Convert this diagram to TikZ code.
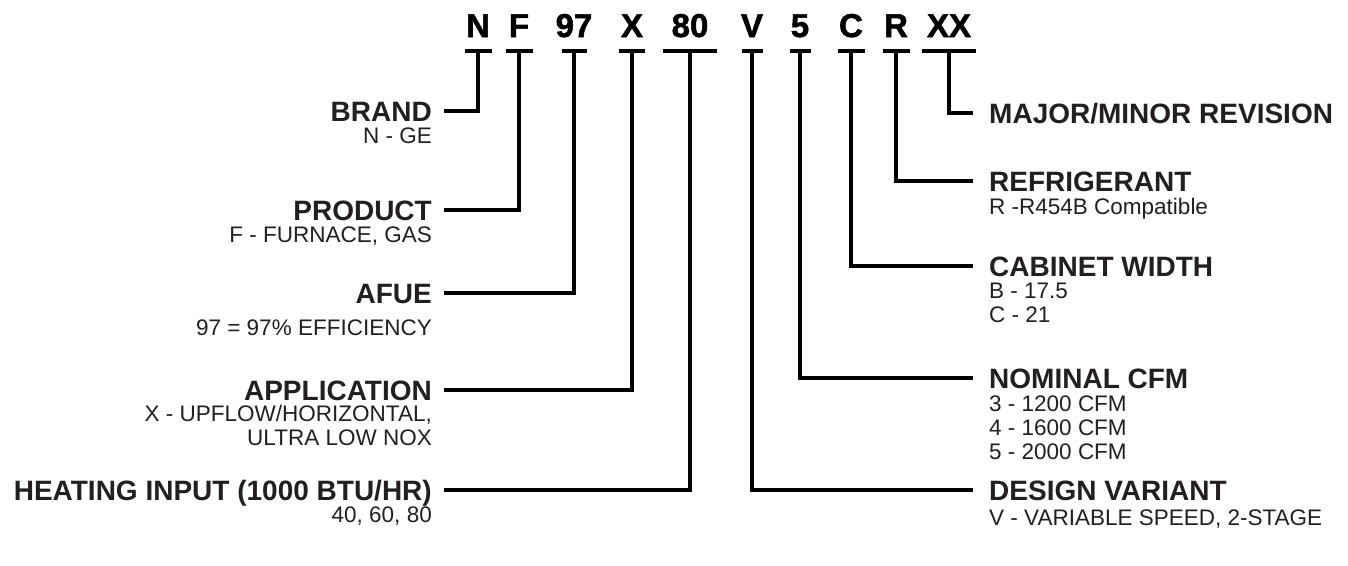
\documentclass[tikz,border=0pt]{standalone}
\usepackage{fontspec}
\setmainfont{Liberation Sans}
\newfontfamily\codefont[FakeBold=1.6]{Liberation Sans Bold}
\usetikzlibrary{positioning}
\definecolor{txtgray}{HTML}{231F20}

\begin{document}
\begin{tikzpicture}[x=1pt,y=-1pt,
	code/.style={font=\codefont\fontsize{33}{33}\selectfont, anchor=base, inner sep=0},
	title/.style={font=\bfseries\fontsize{28}{28}\selectfont, text=txtgray, inner sep=0, text height=20pt, text depth=0pt},
	subtxt/.style={font=\fontsize{22.5}{24}\selectfont, text=txtgray, inner sep=0},
	bar/.style={line width=4pt},
	link/.style={line width=4pt}]
	\useasboundingbox (0,0) rectangle (1348,565);
%	model number and the bars under it
	\foreach \n/\t/\x/\w in {N/N/478/27, F/F/519/27, n97/97/574/25, X/X/632/26, n80/80/690/54,
		V/V/752/21, n5/5/800/21, C/C/851/27, R/R/896/27, XX/XX/949/54} {
		\node [code] (c\n) at (\x,37) {\t};
		\coordinate (b\n) at (\x,51);
		\draw [bar] ([xshift=-\w/2]b\n) -- ([xshift=\w/2]b\n);
	}
%	left side (base of a multi-line node is its last line)
	\node [title, anchor=east] (tBrand) at (432,111) {BRAND};
	\node [subtxt, anchor=base east] (sBrand) at (432,143) {N - GE};
	\node [title, anchor=east] (tProduct) at (432,210) {PRODUCT};
	\node [subtxt, anchor=base east] (sProduct) at (432,242) {F - FURNACE, GAS};
	\node [title, anchor=east] (tAfue) at (432,293) {AFUE};
	\node [subtxt, anchor=base east] (sAfue) at (432,335) {97 = 97\% EFFICIENCY};
	\node [title, anchor=east] (tAppl) at (432,390) {APPLICATION};
	\node [subtxt, anchor=base east, align=right] (sAppl) at (432,445) {X - UPFLOW/HORIZONTAL,\\ULTRA LOW NOX};
	\node [title, anchor=east] (tHeat) at (432,490) {HEATING INPUT (1000 BTU/HR)};
	\node [subtxt, anchor=base east] (sHeat) at (432,522) {40, 60, 80};
%	right side
	\node [title, anchor=west] (tMajor) at (989,113) {MAJOR/MINOR REVISION};
	\node [title, anchor=west] (tRefr) at (989,181) {REFRIGERANT};
	\node [subtxt, anchor=base west] (sRefr) at (989,214) {R -R454B Compatible};
	\node [title, anchor=west] (tCab) at (989,266) {CABINET WIDTH};
	\node [subtxt, anchor=base west, align=left] (sCab) at (989,322) {B - 17.5\\C - 21};
	\node [title, anchor=west] (tCfm) at (989,378) {NOMINAL CFM};
	\node [subtxt, anchor=base west, align=left] (sCfm) at (989,459) {3 - 1200 CFM\\4 - 1600 CFM\\5 - 2000 CFM};
	\node [title, anchor=west] (tDesign) at (989,490) {DESIGN VARIANT};
	\node [subtxt, anchor=base west] (sDesign) at (989,525) {V - VARIABLE SPEED, 2-STAGE};
%	connectors
	\draw [link] (bN) |- ([xshift=12pt]tBrand.east);
	\draw [link] (bF) |- ([xshift=12pt]tProduct.east);
	\draw [link] (bn97) |- ([xshift=12pt]tAfue.east);
	\draw [link] (bX) |- ([xshift=12pt]tAppl.east);
	\draw [link] (bn80) |- ([xshift=12pt]tHeat.east);
	\draw [link] (bXX) |- ([xshift=-16pt]tMajor.west);
	\draw [link] (bR) |- ([xshift=-16pt]tRefr.west);
	\draw [link] (bC) |- ([xshift=-16pt]tCab.west);
	\draw [link] (bn5) |- ([xshift=-16pt]tCfm.west);
	\draw [link] (bV) |- ([xshift=-16pt]tDesign.west);
\end{tikzpicture}
\end{document}
